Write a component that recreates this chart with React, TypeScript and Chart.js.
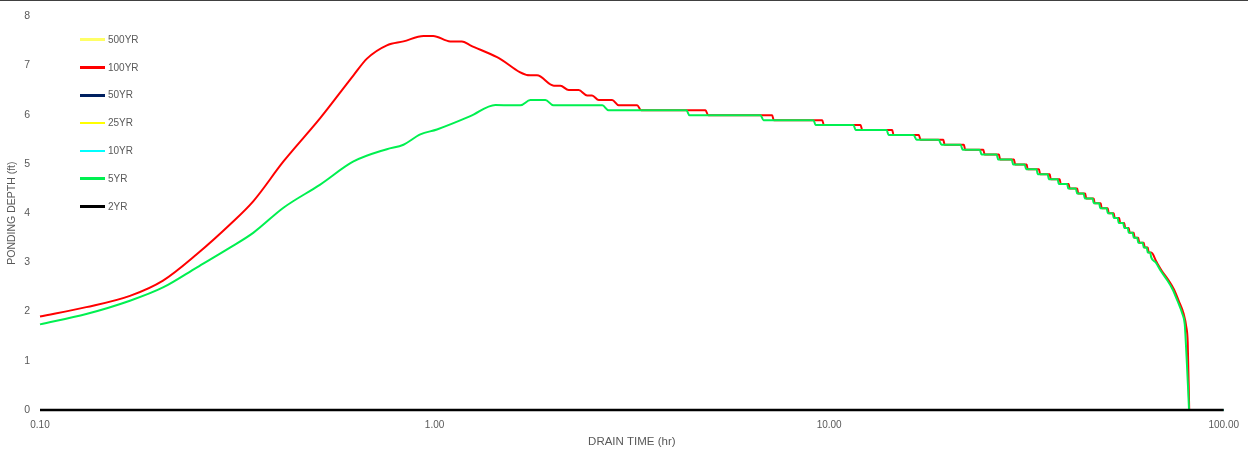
import React, { useEffect, useRef } from "react";
import { Chart, registerables } from "chart.js";

Chart.register(...registerables);

// ---- DATA ----
const seriesNames = ["500YR", "100YR", "50YR", "25YR", "10YR", "5YR", "2YR"];
const seriesColors = ["#FFFF66", "#FF0000", "#002060", "#FFFF00", "#00FFFF", "#00F050", "#000000"];

const xTickValues = [0.1, 1, 10, 100];
const yTickValues = [0, 1, 2, 3, 4, 5, 6, 7, 8];

// 100YR drain curve (hr, ft)
const time100 = [
  0.100, 0.131, 0.169, 0.205, 0.250, 0.303, 0.347, 0.414, 0.513, 0.623, 0.674, 0.757, 0.834, 0.938, 0.992,
  1.096, 1.173, 1.232, 1.440, 1.749, 1.818, 2.006, 2.084, 2.187, 2.318, 2.435, 2.507, 2.606, 2.818, 2.929,
  3.261, 3.338, 4.860, 4.937, 7.171, 7.238, 9.606, 9.696, 12.01, 12.13, 14.45, 14.56, 16.88, 17.05, 19.47,
  19.62, 21.96, 22.11, 24.59, 24.78, 26.94, 27.13, 29.40, 29.61, 31.67, 31.85, 34.03, 34.27, 36.23, 36.44,
  38.40, 38.63, 40.47, 40.71, 42.53, 42.78, 44.56, 44.82, 46.83, 47.10, 48.78, 49.07, 50.82, 51.12, 52.63,
  52.94, 54.34, 54.66, 55.95, 56.28, 57.44, 57.78, 59.15, 59.49, 60.72, 61.08, 62.71, 63.08, 64.19, 64.57,
  65.51, 67.65, 69.65, 72.55, 74.70, 76.91, 79.19, 80.35, 81.06, 81.77,
];
const depth100 = [
  1.90, 2.09, 2.32, 2.63, 3.17, 3.77, 4.24, 5.05, 5.93, 6.80, 7.14, 7.41, 7.49, 7.60, 7.60,
  7.49, 7.49, 7.41, 7.17, 6.80, 6.80, 6.59, 6.59, 6.50, 6.50, 6.39, 6.39, 6.30, 6.30, 6.19,
  6.19, 6.09, 6.09, 5.99, 5.99, 5.89, 5.89, 5.79, 5.79, 5.69, 5.69, 5.59, 5.59, 5.49, 5.49,
  5.39, 5.39, 5.29, 5.29, 5.19, 5.19, 5.09, 5.09, 4.99, 4.99, 4.89, 4.89, 4.79, 4.79, 4.69,
  4.69, 4.59, 4.59, 4.50, 4.50, 4.40, 4.40, 4.30, 4.30, 4.20, 4.20, 4.10, 4.10, 4.00, 4.00,
  3.90, 3.90, 3.80, 3.80, 3.70, 3.70, 3.60, 3.60, 3.50, 3.50, 3.40, 3.40, 3.30, 3.30, 3.20,
  3.20, 3.00, 2.83, 2.63, 2.46, 2.22, 1.95, 1.70, 1.37, 0.00,
];

// 5YR drain curve (hr, ft)
const time5 = [
  0.100, 0.131, 0.169, 0.205, 0.250, 0.303, 0.347, 0.414, 0.513, 0.623, 0.757, 0.834, 0.920, 1.014, 1.232,
  1.426, 1.650, 1.749, 1.909, 2.000, 2.663, 2.759, 4.348, 4.425, 6.699, 6.817, 9.130, 9.237, 11.53, 11.67,
  13.98, 14.15, 16.37, 16.66, 18.94, 19.28, 21.54, 21.79, 24.07, 24.35, 26.58, 26.81, 29.01, 29.27, 31.30,
  31.57, 33.57, 33.77, 35.81, 36.02, 37.96, 38.18, 40.12, 40.36, 42.16, 42.53, 44.18, 44.43, 46.55, 46.83,
  48.36, 48.64, 50.52, 50.82, 52.32, 52.63, 53.87, 54.18, 55.63, 55.95, 57.11, 57.44, 58.80, 59.15, 60.37,
  60.72, 62.34, 62.71, 63.81, 64.19, 65.13, 65.51, 67.25, 69.24, 72.00, 74.13, 76.33, 78.59, 79.65, 80.12,
  80.59, 81.20, 81.68,
];
const depth5 = [
  1.74, 1.95, 2.22, 2.49, 2.90, 3.30, 3.60, 4.11, 4.58, 5.05, 5.30, 5.39, 5.60, 5.70, 5.97,
  6.20, 6.19, 6.30, 6.30, 6.19, 6.19, 6.09, 6.09, 5.99, 5.99, 5.89, 5.89, 5.79, 5.79, 5.69,
  5.69, 5.59, 5.59, 5.49, 5.49, 5.39, 5.39, 5.29, 5.29, 5.19, 5.19, 5.09, 5.09, 4.99, 4.99,
  4.89, 4.89, 4.79, 4.79, 4.69, 4.69, 4.59, 4.59, 4.50, 4.50, 4.40, 4.40, 4.30, 4.30, 4.20,
  4.20, 4.10, 4.10, 4.00, 4.00, 3.90, 3.90, 3.80, 3.80, 3.70, 3.70, 3.60, 3.60, 3.50, 3.50,
  3.40, 3.40, 3.30, 3.30, 3.20, 3.20, 3.10, 3.00, 2.83, 2.63, 2.46, 2.22, 1.95, 1.75, 1.41,
  1.01, 0.47, 0.00,
];

// Series lying on zero
const timeZero = [0.1, 100];
const depthZero = [0, 0];

const FONT = "'Liberation Sans', Arial, sans-serif";
const TEXT = "#595959";

const pts = (t: number[], d: number[]) => t.map((x, i) => ({ x, y: d[i] }));

export default function App() {
  const ref = useRef<HTMLCanvasElement | null>(null);

  useEffect(() => {
    if (!ref.current) return;
    const seriesData = [
      pts(timeZero, depthZero),
      pts(time100, depth100),
      pts(timeZero, depthZero),
      pts(timeZero, depthZero),
      pts(timeZero, depthZero),
      pts(time5, depth5),
      pts(timeZero, depthZero),
    ];
    const orders = [6, 5, 4, 3, 2, 1, 0];
    const chart = new Chart(ref.current, {
      type: "scatter",
      data: {
        datasets: seriesNames.map((name, i) => ({
          label: name,
          data: seriesData[i],
          showLine: true,
          borderColor: seriesColors[i],
          backgroundColor: seriesColors[i],
          borderWidth: i === 6 ? 2.5 : 2,
          pointRadius: 0,
          pointHoverRadius: 0,
          cubicInterpolationMode: "monotone" as const,
          order: orders[i],
          clip: 6,
        })),
      },
      options: {
        animation: false,
        responsive: false,
        maintainAspectRatio: false,
        layout: { padding: { top: 14, right: 24, left: 0, bottom: 0 } },
        plugins: { legend: { display: false }, tooltip: { enabled: false } },
        scales: {
          x: {
            type: "logarithmic",
            min: 0.1,
            max: 100,
            afterBuildTicks: (s: any) => {
              s.ticks = xTickValues.map((v) => ({ value: v }));
            },
            afterFit: (s: any) => {
              s.height = 47;
            },
            grid: { display: false, drawTicks: false },
            border: { display: true, color: "#d9d9d9" },
            ticks: {
              autoSkip: false,
              maxRotation: 0,
              padding: 9,
              color: TEXT,
              font: { family: FONT, size: 10 },
              callback: (v: any) => Number(v).toFixed(2),
            },
            title: {
              display: true,
              text: "DRAIN TIME (hr)",
              color: TEXT,
              font: { family: FONT, size: 11.5 },
              padding: { top: 0, bottom: 8 },
            },
          },
          y: {
            type: "linear",
            min: 0,
            max: 8,
            afterBuildTicks: (s: any) => {
              s.ticks = yTickValues.map((v) => ({ value: v }));
            },
            afterFit: (s: any) => {
              s.width = 40;
            },
            grid: { display: false, drawTicks: false },
            border: { display: false },
            ticks: {
              padding: 10,
              color: TEXT,
              font: { family: FONT, size: 10.5 },
            },
            title: {
              display: true,
              text: "PONDING DEPTH (ft)",
              color: TEXT,
              font: { family: FONT, size: 10.5 },
              padding: { top: 6, bottom: 0 },
            },
          },
        },
      },
    });
    return () => chart.destroy();
  }, []);

  return (
    <div
      style={{
        position: "fixed",
        left: 0,
        top: 0,
        width: 1248,
        height: 457,
        background: "#ffffff",
        overflow: "hidden",
      }}
    >
      <div style={{ position: "absolute", left: 0, top: 0, width: 1248, height: 1, background: "#404040" }} />
      <canvas ref={ref} width={1248} height={457} style={{ position: "absolute", left: 0, top: 0, width: 1248, height: 457 }} />
      {seriesNames.map((name, i) => {
        const cy = 39.7 + i * 27.8;
        return (
          <div key={name} style={{ position: "absolute", left: 0, top: 0, pointerEvents: "none" }}>
            <div
              style={{
                position: "absolute",
                left: 80,
                top: cy - 1.25,
                width: 25,
                height: 2.5,
                background: seriesColors[i],
              }}
            />
            <div
              style={{
                position: "absolute",
                left: 108,
                top: cy - 7,
                height: 14,
                lineHeight: "14px",
                fontFamily: FONT,
                fontSize: 10,
                color: TEXT,
                whiteSpace: "nowrap",
              }}
            >
              {name}
            </div>
          </div>
        );
      })}
    </div>
  );
}
